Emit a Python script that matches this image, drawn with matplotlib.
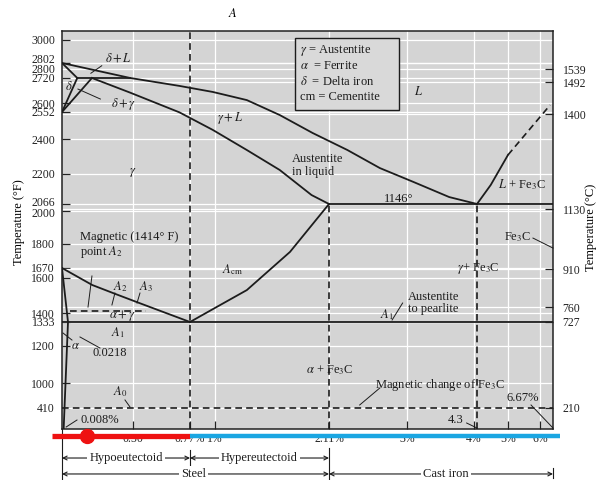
import numpy as np
import matplotlib
matplotlib.use('Agg')
import matplotlib.pyplot as plt
from matplotlib.transforms import blended_transform_factory, ScaledTranslation
from matplotlib.patches import Rectangle

plt.rcParams['font.family'] = ['Liberation Serif', 'DejaVu Serif']
plt.rcParams['mathtext.fontset'] = 'stix'

# phase boundaries: carbon (wt %) and temperature (F)
liquidus_c = [0, 0.48, 0.72, 0.98, 1.31, 1.63, 1.95, 2.32, 2.69, 3.10, 3.63, 4.3]
liquidus_f = [2802, 2720, 2682, 2653, 2614, 2535, 2434, 2337, 2234, 2164, 2097, 2066]
solidus_c = [0.198, 0.478, 0.72, 0.98, 1.31, 1.63, 1.94, 2.11]
solidus_f = [2720, 2650, 2550, 2451, 2337, 2223, 2106, 2066]
delta_liq_c = [0, 0.09]
delta_liq_f = [2802, 2720]
delta_gam_c = [0.09, 0]
delta_gam_f = [2720, 2552]
gam_delta_c = [0.198, 0]
gam_delta_f = [2720, 2552]
peritectic_c = [0.09, 0.48]
a3_c = [0, 0.2, 0.37, 0.53, 0.77]
a3_f = [1670, 1560, 1509, 1457, 1333]
alpha_c = [0, 0.0218, 0.006]
alpha_f = [1670, 1333, 60]
acm_c = [0.77, 1.0, 1.31, 1.73, 2.11]
acm_f = [1333, 1429, 1531, 1757, 2066]
hyper_c = [4.3, 4.61, 5.0]
hyper_f = [2066, 2151, 2309]
hyper_dash_c = [5.0, 6.52]
hyper_dash_f = [2309, 2589]
eutectic_f = 2066
eutectoid_f = 1333
magnetic_fe3c_f = 410
a2_f = 1414
a2_c = [0.04, 0.56]

f_ticks = [3000, 2802, 2800, 2720, 2600, 2552, 2400, 2200, 2066, 2000,
           1800, 1670, 1600, 1400, 1333, 1200, 1000, 410]
c_ticks = [1539, 1492, 1400, 1130, 910, 760, 727, 210]
x_ticks = [0.5, 0.77, 1, 2.11, 3, 4, 5, 6]
x_labels = ['0.50', '0.77%', '1%', '2.11%', '3%', '4%', '5%', '6%']

# the printed diagram is not to scale: piecewise axis stretch
x_stops = [0, 0.0218, 0.5, 0.77, 1, 2.11, 3, 4, 4.3, 5, 6, 6.67]
x_px = [0, 6, 71, 128, 153, 267, 345, 412, 415, 446, 478, 491]
f_stops = [60, 410, 1000, 1200, 1333, 1400, 1600, 1670, 1800, 2000, 2066,
           2200, 2400, 2552, 2600, 2720, 2802, 3000, 3053]
f_px = [0, 21, 46, 83, 107, 116, 151, 161, 185, 218, 225, 255, 290, 317,
        326, 351, 366, 389, 398]
# celsius scale as printed on the right (slightly offset from the F side)
c_stops = [15.6, 210, 727, 760, 910, 1130, 1400, 1492, 1539, 1678]
c_px = [0, 21, 107, 122, 160, 220, 315, 347, 360, 398]


def piecewise(src, dst):
    src = np.asarray(src, float)
    dst = np.asarray(dst, float)

    def f(v):
        v = np.asarray(v, float)
        out = np.interp(v, src, dst)
        lo = dst[0] + (v - src[0]) * (dst[1] - dst[0]) / (src[1] - src[0])
        hi = dst[-1] + (v - src[-1]) * (dst[-1] - dst[-2]) / (src[-1] - src[-2])
        return np.where(v < src[0], lo, np.where(v > src[-1], hi, out))
    return f


fig = plt.figure(figsize=(5.98, 4.8), dpi=100)
ax = fig.add_axes([62 / 598, 51 / 480, 491 / 598, 398 / 480])
ax.set_xscale('function', functions=(piecewise(x_stops, x_px), piecewise(x_px, x_stops)))
ax.set_yscale('function', functions=(piecewise(f_stops, f_px), piecewise(f_px, f_stops)))
ax.set_xlim(0, 6.67)
ax.set_ylim(60, 3053)
ax.set_facecolor('#d4d4d4')
ax.set_axisbelow(True)
ax.grid(True, color='white', lw=0.9)

ax2 = ax.twinx()
ax2.set_yscale('function', functions=(piecewise(c_stops, c_px), piecewise(c_px, c_stops)))
ax2.set_ylim(c_stops[0], c_stops[-1])
ax2.set_yticks(c_ticks)
ax2.set_yticklabels([str(c) for c in c_ticks])
ax2.tick_params(direction='in', length=6, width=0.9, labelsize=8.5, colors='#222', pad=7)
for s in ax2.spines.values():
    s.set_visible(False)

ct = blended_transform_factory(ax.transAxes, ax2.transData)
for c in c_ticks:
    ax.plot([0, 1], [c, c], transform=ct, color='white', lw=0.9, zorder=0.6)

ink = '#1c1c1c'
lw = 1.3
for xs, ys in [(liquidus_c, liquidus_f), (solidus_c, solidus_f),
               (delta_liq_c, delta_liq_f), (delta_gam_c, delta_gam_f),
               (gam_delta_c, gam_delta_f), (a3_c, a3_f), (alpha_c, alpha_f),
               (acm_c, acm_f), (hyper_c, hyper_f)]:
    ax.plot(xs, ys, color=ink, lw=lw, zorder=3)
ax.plot(peritectic_c, [2720, 2720], color=ink, lw=lw, zorder=3)
ax.plot([2.11, 6.67], [eutectic_f, eutectic_f], color=ink, lw=lw, zorder=3)
ax.plot([0, 6.67], [eutectoid_f, eutectoid_f], color=ink, lw=lw, zorder=3)

dash = dict(color=ink, lw=1.2, ls=(0, (4, 2.5)), zorder=3)
ax.plot(hyper_dash_c, hyper_dash_f, **dash)
ax.plot([0.77, 0.77], [60, 3053], **dash)
ax.plot([2.11, 2.11], [60, eutectic_f], **dash)
ax.plot([4.3, 4.3], [60, eutectic_f], **dash)
ax.plot([0, 6.67], [magnetic_fe3c_f, magnetic_fe3c_f], **dash)
ax.plot(a2_c, [a2_f, a2_f], **dash)

# ticks
ax.set_xticks(x_ticks)
ax.set_xticklabels(x_labels)
ax.set_yticks(f_ticks)
ax.set_yticklabels([str(t) for t in f_ticks])
ax.tick_params(direction='in', length=6, width=0.9, labelsize=8.5,
               colors='#222', top=False, right=False)
ax.tick_params(axis='y', pad=5)
ax.tick_params(axis='x', pad=3)
ticks = ax.yaxis.get_major_ticks()
for i, dy in [(1, 3), (2, -4), (8, 1.5), (9, -1)]:
    lab = ticks[i].label1
    lab.set_transform(lab.get_transform() + ScaledTranslation(0, dy / 72, fig.dpi_scale_trans))
for s in ax.spines.values():
    s.set_color('#222')
    s.set_linewidth(1.1)

fig.text(19 / 598, 1 - 222 / 480, 'Temperature (°F)', rotation=90,
         ha='center', va='center', fontsize=9)
fig.text(591 / 598, 1 - 227 / 480, 'Temperature (°C)', rotation=90,
         ha='center', va='center', fontsize=9)

# region labels
fs = 9
def lbl(x, y, s, **kw):
    kw.setdefault('ha', 'center')
    kw.setdefault('va', 'center')
    ax.text(x, y, s, fontsize=fs, color=ink, zorder=5, **kw)

def leader(xs, ys):
    ax.plot(xs, ys, color=ink, lw=0.7, zorder=4, clip_on=False)

lbl(0.39, 2845, r'$\delta + L$')
leader([0.27, 0.19], [2787, 2746])
lbl(0.43, 2595, r'$\delta + \gamma$')
leader([0.095, 0.26], [2667, 2619])
lbl(0.03, 2677, r'$\delta$')
lbl(0.5, 2211, r'$\gamma$')
lbl(1.15, 2518, r'$\gamma + L$')
lbl(1.75, 2251, 'Austentite\nin liquid', ha='left', linespacing=1.1)
lbl(3.17, 2653, r'$L$')
lbl(2.9, 2090, '1146°')
lbl(5.44, 2151, r'$L$ + Fe$_3$C')
lbl(5.31, 1842, 'Fe$_3$C')
leader([5.78, 6.67], [1836, 1778])
lbl(4.34, 1663, r'$\gamma$+ Fe$_3$C')
lbl(1.17, 1656, r'$A_{\rm cm}$')
lbl(3.02, 1455, 'Austentite\nto pearlite', ha='left', linespacing=1.0)
lbl(2.77, 1385, r'$A_1$')
leader([2.83, 2.95], [1348, 1457])
lbl(2.12, 1070, r'$\alpha$ + Fe$_3$C')
lbl(2.64, 953, 'Magnetic change of Fe$_3$C', ha='left')
leader([2.46, 2.69], [481, 882])
lbl(5.47, 646, '6.67%')
leader([5.72, 6.67], [481, 76])
lbl(3.73, 210, '4.3')
leader([3.89, 4.3], [160, 76])
lbl(0.11, 1790, 'Magnetic (1414° F)\npoint $A_2$', ha='left', linespacing=1.1)
leader([0.198, 0.169], [1614, 1434])
lbl(0.404, 1549, r'$A_2$')
leader([0.367, 0.345], [1514, 1446])
lbl(0.56, 1549, r'$A_3$')
leader([0.533, 0.519], [1514, 1457])
lbl(0.42, 1378, r'$\alpha + \gamma$')
lbl(0.39, 1272, r'$A_1$')
lbl(0.08, 1200, r'$\alpha$')
leader([0.0036, 0.051], [1272, 1233])
lbl(0.331, 1162, '0.0218')
leader([0.11, 0.257], [1250, 1189])
lbl(0.404, 788, r'$A_0$')
leader([0.441, 0.478], [599, 434])
lbl(0.257, 210, '0.008%')
leader([0.015, 0.088], [93, 210])

# key box
ax.add_patch(Rectangle((0.4745, 0.8015), 0.212, 0.181, transform=ax.transAxes,
                       facecolor='#d9d9d9', edgecolor=ink, lw=1.0, zorder=5))
for yf, s in zip([0.952, 0.9121, 0.8719, 0.8342],
                 [r'$\gamma$ = Austentite', r'$\alpha$  = Ferrite',
                  r'$\delta$  = Delta iron', 'cm = Cementite']):
    ax.text(0.4847, yf, s, transform=ax.transAxes, fontsize=fs, va='center',
            ha='left', color=ink, zorder=6)

bt = blended_transform_factory(ax.transData, ax.transAxes)
ax.text(1.175, 1.043, r'$A$', transform=bt, fontsize=fs, ha='center', va='center')

# composition ranges under the axis
def bracket(x0, x1, yf, s, xm):
    ax.annotate('', xy=(x0, yf), xytext=(x1, yf), xycoords=bt, textcoords=bt,
                arrowprops=dict(arrowstyle='<->', lw=0.8, color=ink,
                                shrinkA=0, shrinkB=0, mutation_scale=7),
                annotation_clip=False)
    ax.text(xm, yf, s, transform=bt, fontsize=fs, ha='center', va='center',
            color=ink, bbox=dict(facecolor='white', edgecolor='none', pad=1.5))

bracket(0, 0.77, -0.0729, 'Hypoeutectoid', 0.45)
bracket(0.77, 2.11, -0.0729, 'Hypereutectoid', 1.43)
bracket(0, 2.11, -0.113, 'Steel', 0.8)
bracket(2.11, 6.67, -0.113, 'Cast iron', 3.58)
for xv, y0, y1 in [(0, 0, -0.128), (0.77, -0.053, -0.098), (2.11, -0.048, -0.128),
                   (6.67, -0.098, -0.123)]:
    ax.plot([xv, xv], [y0, y1], transform=bt, color=ink, lw=0.8, clip_on=False)

# red / blue overlay marks
yb = -0.0176
ax.plot([-0.036, 0.77], [yb, yb], transform=bt, color='#ee1111', lw=3.8,
        solid_capstyle='butt', clip_on=False, zorder=8)
ax.plot([0.77, 7.03], [yb, yb], transform=bt, color='#1aa6e2', lw=3.2,
        solid_capstyle='butt', clip_on=False, zorder=8)
ax.plot([0.16], [yb], transform=bt, marker='o', ms=10, color='#ee1111',
        clip_on=False, zorder=9)

fig.savefig('out.png', dpi=100)
